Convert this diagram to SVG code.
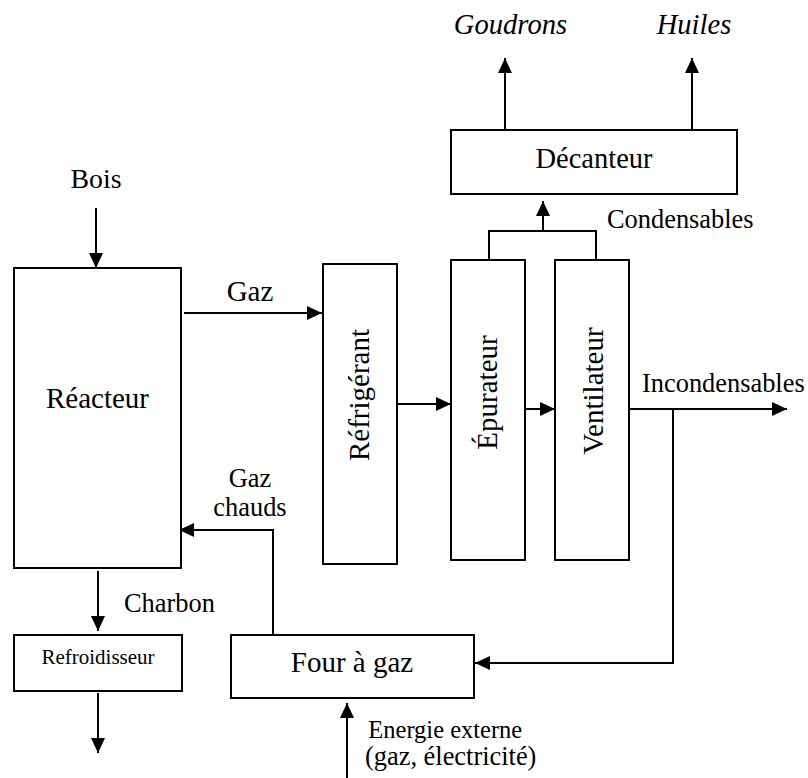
<svg xmlns="http://www.w3.org/2000/svg" width="808" height="778" viewBox="0 0 808 778">
<defs>
<marker id="ah" markerUnits="userSpaceOnUse" markerWidth="15" markerHeight="14" refX="15" refY="7" orient="auto">
<path d="M0,0 L15,7 L0,14 Z" fill="#000"/>
</marker>
<style>
.box{fill:#fff;stroke:#000;stroke-width:2}
.ln{fill:none;stroke:#000;stroke-width:2}
.ar{fill:none;stroke:#000;stroke-width:2;marker-end:url(#ah)}
text{font-family:"Liberation Serif","Times New Roman",serif;fill:#000}
.big{font-size:29px}
.sm{font-size:26.4px}
.it{font-style:italic;font-size:28.6px}
</style>
</defs>
<rect width="808" height="778" fill="#fff"/>
<g id="connectors">
<path class="ar" d="M96,208 V268"/>
<path class="ar" d="M184,313 H322"/>
<path class="ar" d="M397,404 H451"/>
<path class="ar" d="M525,409 H555"/>
<path class="ar" d="M629,409 H787"/>
<path class="ar" d="M673,409 V663 H475"/>
<path class="ar" d="M273,635 V530 H179"/>
<path class="ar" d="M98,571 V631"/>
<path class="ar" d="M98,693 V753"/>
<path class="ar" d="M347,778 V703"/>
<path class="ln" d="M489,260 V231 H596 V263"/>
<path class="ar" d="M543,231 V201"/>
<path class="ar" d="M505,130 V58"/>
<path class="ar" d="M692,130 V58"/>
</g>
<g id="reacteur">
<rect class="box" x="14" y="268" width="167" height="300"/>
<text class="big" x="97.5" y="408" text-anchor="middle">Réacteur</text>
</g>
<g id="refrigerant">
<rect class="box" x="323" y="264" width="74" height="300"/>
<text class="big" transform="translate(369,395) rotate(-90)" text-anchor="middle">Réfrigérant</text>
</g>
<g id="epurateur">
<rect class="box" x="451" y="260" width="74" height="300"/>
<text class="big" transform="translate(497,392.5) rotate(-90)" text-anchor="middle">Épurateur</text>
</g>
<g id="ventilateur">
<rect class="box" x="555" y="260" width="74" height="300"/>
<text class="big" transform="translate(603,391) rotate(-90)" text-anchor="middle">Ventilateur</text>
</g>
<g id="decanteur">
<rect class="box" x="451" y="130" width="286" height="64"/>
<text class="big" x="594" y="168" text-anchor="middle" style="font-size:28.5px">Décanteur</text>
</g>
<g id="refroidisseur">
<rect class="box" x="14" y="635" width="168" height="56"/>
<text x="98" y="664" text-anchor="middle" style="font-size:21px">Refroidisseur</text>
</g>
<g id="four">
<rect class="box" x="231" y="635" width="243" height="63"/>
<text class="big" x="352" y="672" text-anchor="middle">Four à gaz</text>
</g>
<g id="labels">
<text x="96" y="188" text-anchor="middle" style="font-size:27.8px">Bois</text>
<text class="big" x="250" y="301" text-anchor="middle">Gaz</text>
<text class="sm" x="250" y="487" text-anchor="middle">Gaz</text>
<text class="sm" x="250" y="516" text-anchor="middle">chauds</text>
<text class="sm" x="124" y="612">Charbon</text>
<text class="sm" x="642" y="392">Incondensables</text>
<text class="sm" x="607" y="228">Condensables</text>
<text class="it" x="510.5" y="34" text-anchor="middle">Goudrons</text>
<text class="it" x="694" y="34" text-anchor="middle">Huiles</text>
<text x="368.3" y="738" style="font-size:24.5px">Energie externe</text>
<text class="sm" x="365" y="765">(gaz, électricité)</text>
</g>
</svg>
